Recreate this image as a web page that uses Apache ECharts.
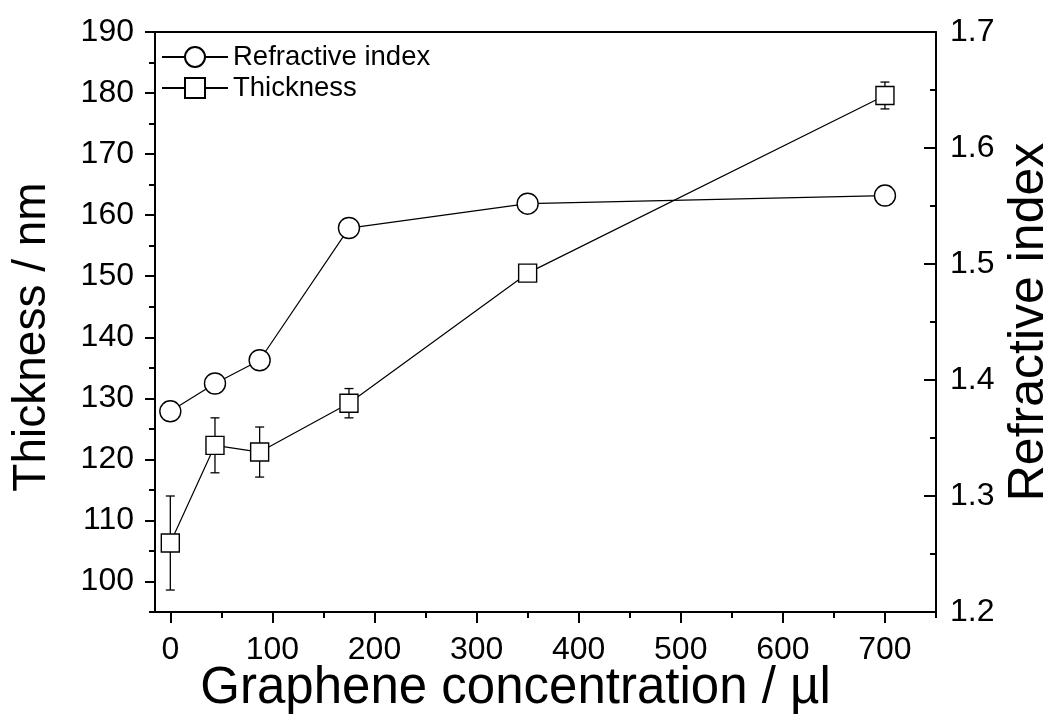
<!DOCTYPE html>
<html>
<head>
<meta charset="utf-8">
<script src="https://cdn.jsdelivr.net/npm/echarts@6/dist/echarts.min.js"></script>
<style>html,body{margin:0;padding:0;background:#fff}#c{width:1046px;height:726px}</style>
</head>
<body>
<div id="c"></div>
<script>
const concentration = [0, 43.75, 87.5, 175, 350, 700];
const refractiveIndex = [1.373, 1.397, 1.417, 1.531, 1.552, 1.559];
const thickness = [106.3, 122.3, 121.2, 129.2, 150.5, 179.6];
const thicknessErr = [7.7, 4.5, 4.1, 2.4, 1.0, 2.2];
const xMajorTicks = [0, 100, 200, 300, 400, 500, 600, 700];
const xMinorTicks = [50, 150, 250, 350, 450, 550, 650, 750];
const yLeftMajorTicks = [100, 110, 120, 130, 140, 150, 160, 170, 180, 190];
const yLeftMinorTicks = [95, 105, 115, 125, 135, 145, 155, 165, 175, 185];

const FONT = "'Liberation Sans', Arial, sans-serif";
const chart = echarts.init(document.getElementById('c'), null, {renderer: 'canvas'});

const axisLineStyle = {color: '#000', width: 2};
const noSplit = {show: false};

const option = {
  animation: false,
  backgroundColor: '#fff',
  grid: {left: 155, right: 110, top: 32, bottom: 114, containLabel: false, outerBoundsMode: 'none'},
  legend: {
    orient: 'vertical',
    left: 156, top: 38,
    itemWidth: 66, itemHeight: 25, itemGap: 3,
    textStyle: {fontFamily: FONT, fontSize: 27.5, color: '#000'},
    data: ['Refractive index', 'Thickness']
  },
  xAxis: [
    {
      type: 'value', position: 'bottom', min: -15, max: 750,
      axisLine: {show: true, onZero: false, lineStyle: axisLineStyle},
      axisTick: {show: true, customValues: xMajorTicks, length: 11, lineStyle: {color: '#000', width: 2}},
      axisLabel: {show: true, customValues: xMajorTicks, fontFamily: FONT, fontSize: 32, color: '#000', margin: 22},
      splitLine: noSplit,
      name: 'Graphene concentration / µl', nameLocation: 'middle', nameGap: 51, nameMoveOverlap: false,
      nameTextStyle: {fontFamily: FONT, fontSize: 51, color: '#000', padding: [0, 60, 0, 0]}
    },
    {
      type: 'value', position: 'bottom', min: -15, max: 750,
      axisLine: {show: false, onZero: false},
      axisTick: {show: true, customValues: xMinorTicks, length: 6, lineStyle: {color: '#000', width: 2}},
      axisLabel: {show: false},
      splitLine: noSplit
    },
    {
      type: 'value', position: 'top', min: -15, max: 750,
      axisLine: {show: true, onZero: false, lineStyle: axisLineStyle},
      axisTick: {show: false}, axisLabel: {show: false}, splitLine: noSplit
    }
  ],
  yAxis: [
    {
      type: 'value', position: 'left', min: 95, max: 190,
      axisLine: {show: true, onZero: false, lineStyle: axisLineStyle},
      axisTick: {show: true, customValues: yLeftMajorTicks, length: 10, lineStyle: {color: '#000', width: 2}},
      axisLabel: {show: true, customValues: yLeftMajorTicks, fontFamily: FONT, fontSize: 32, color: '#000', margin: 21},
      splitLine: noSplit,
      name: 'Thickness / nm', nameLocation: 'middle', nameGap: 100, nameMoveOverlap: false,
      nameTextStyle: {fontFamily: FONT, fontSize: 46, color: '#000', padding: [0, 30, 0, 0]}
    },
    {
      type: 'value', position: 'right', min: 1.2, max: 1.7, interval: 0.1,
      axisLine: {show: true, onZero: false, lineStyle: axisLineStyle},
      axisTick: {show: true, inside: true, length: 12, lineStyle: {color: '#000', width: 2}},
      minorTick: {show: true, splitNumber: 2, length: 6, lineStyle: {color: '#000', width: 2}},
      axisLabel: {show: true, fontFamily: FONT, fontSize: 32, color: '#000', margin: 14,
        formatter: v => v.toFixed(1)},
      splitLine: noSplit, minorSplitLine: {show: false},
      name: 'Refractive index', nameLocation: 'middle', nameGap: 68, nameMoveOverlap: false,
      nameTextStyle: {fontFamily: FONT, fontSize: 50, color: '#000'}
    },
    {
      type: 'value', position: 'left', min: 95, max: 190,
      axisLine: {show: false, onZero: false},
      axisTick: {show: true, customValues: yLeftMinorTicks, length: 6, lineStyle: {color: '#000', width: 2}},
      axisLabel: {show: false}, splitLine: noSplit
    }
  ],
  series: [
    {
      name: 'Thickness error', type: 'custom', xAxisIndex: 0, yAxisIndex: 0, z: 1,
      data: concentration.map((x, i) => [x, thickness[i] - thicknessErr[i], thickness[i] + thicknessErr[i]]),
      renderItem: function (params, api) {
        const x = api.value(0);
        const lo = api.coord([x, api.value(1)]);
        const hi = api.coord([x, api.value(2)]);
        const w = 4.5;
        const st = {stroke: '#000', lineWidth: 1.3};
        return {
          type: 'group',
          children: [
            {type: 'line', shape: {x1: lo[0], y1: lo[1], x2: hi[0], y2: hi[1]}, style: st},
            {type: 'line', shape: {x1: lo[0] - w, y1: lo[1], x2: lo[0] + w, y2: lo[1]}, style: st},
            {type: 'line', shape: {x1: hi[0] - w, y1: hi[1], x2: hi[0] + w, y2: hi[1]}, style: st}
          ]
        };
      },
      silent: true
    },
    {
      name: 'Refractive index', type: 'line', xAxisIndex: 0, yAxisIndex: 1, z: 3,
      data: concentration.map((x, i) => [x, refractiveIndex[i]]),
      symbol: 'circle', symbolSize: 21, showSymbol: true,
      lineStyle: {color: '#000', width: 1.2},
      itemStyle: {color: '#fff', borderColor: '#000', borderWidth: 1.4}
    },
    {
      name: 'Thickness', type: 'line', xAxisIndex: 0, yAxisIndex: 0, z: 3,
      data: concentration.map((x, i) => [x, thickness[i]]),
      symbol: 'rect', symbolSize: 18, showSymbol: true,
      lineStyle: {color: '#000', width: 1.2},
      itemStyle: {color: '#fff', borderColor: '#000', borderWidth: 1.4}
    }
  ]
};
chart.setOption(option);
</script>
</body>
</html>
